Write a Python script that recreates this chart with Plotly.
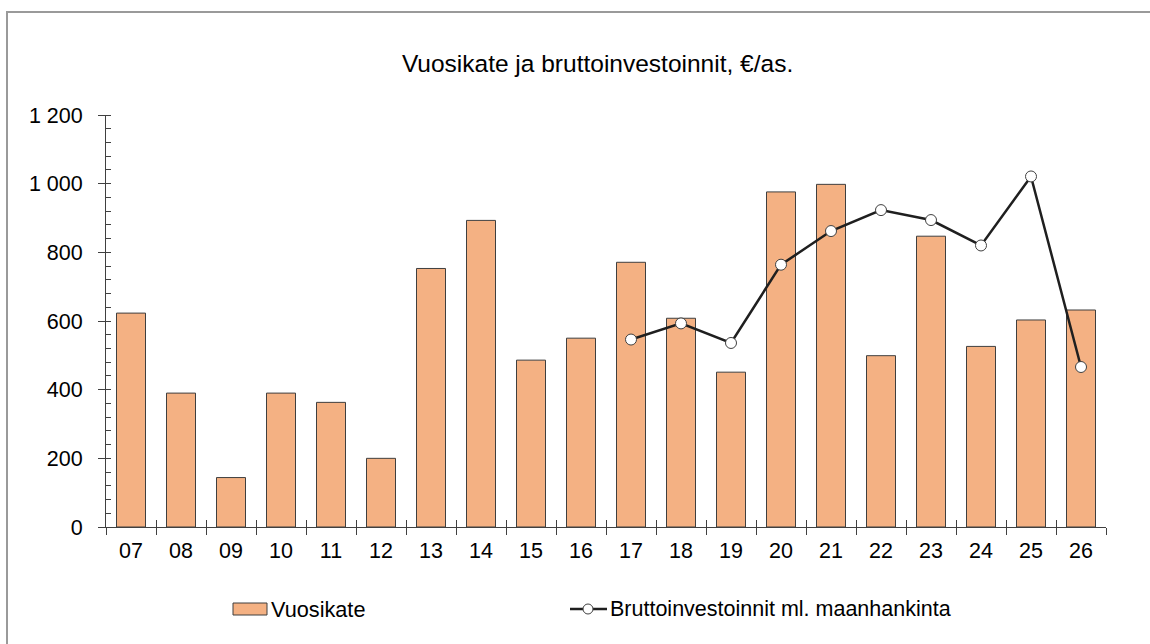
import plotly.graph_objects as go

years = ["07", "08", "09", "10", "11", "12", "13", "14", "15", "16",
         "17", "18", "19", "20", "21", "22", "23", "24", "25", "26"]
vuosikate = [623, 390, 144, 390, 363, 200, 753, 893, 486, 550,
             771, 608, 451, 976, 998, 499, 847, 526, 603, 632]
brutto = [None, None, None, None, None, None, None, None, None, None,
          546, 593, 536, 764, 862, 923, 894, 820, 1021, 466]
y_ticks = [0, 200, 400, 600, 800, 1000, 1200]
y_tick_labels = ["0", "200", "400", "600", "800", "1 000", "1 200"]
legend_names = ["Vuosikate", "Bruttoinvestoinnit ml. maanhankinta"]

font_family = "Liberation Sans, Arial, sans-serif"
bar_color = "#F4B183"
bar_edge = "#3F3F3F"
line_color = "#1F1F1F"
axis_color = "#404040"

fig = go.Figure()
fig.add_trace(go.Bar(
    x=years, y=vuosikate, name=legend_names[0],
    marker=dict(color=bar_color, line=dict(color=bar_edge, width=1)),
))
fig.add_trace(go.Scatter(
    x=years, y=brutto, name=legend_names[1],
    mode="lines+markers", connectgaps=False,
    line=dict(color=line_color, width=2.5),
    marker=dict(symbol="circle", size=11, color="white",
                line=dict(color="#404040", width=1)),
))
# helper trace on overlay axis to draw the upper half of the crossing x ticks
fig.add_trace(go.Scatter(x=[-0.5, 19.5], y=[0, 0], xaxis="x2", yaxis="y",
                         mode="lines", line=dict(width=0), hoverinfo="skip",
                         showlegend=False))

fig.update_layout(
    width=1150, height=644,
    margin=dict(l=106, r=44, t=115, b=117),
    paper_bgcolor="white", plot_bgcolor="white",
    font=dict(family=font_family, color="#000000", size=21),
    title=dict(text="Vuosikate ja bruttoinvestoinnit, €/as.",
               x=0.5196, xanchor="center", y=(644 - 63) / 644, yanchor="middle",
               font=dict(size=24.5, family=font_family)),
    bargap=0.42,
    showlegend=False,
    xaxis=dict(type="category", range=[-0.5, 19.5],
               showline=True, linecolor=axis_color, linewidth=1,
               ticks="outside", tickson="boundaries", ticklen=7,
               tickcolor=axis_color, tickwidth=1,
               showgrid=False, tickfont=dict(size=21.5), ticklabelstandoff=4),
    xaxis2=dict(overlaying="x", range=[-0.5, 19.5], side="bottom",
                tickvals=[i - 0.5 for i in range(len(years) + 1)],
                ticks="inside", ticklen=7, tickcolor=axis_color, tickwidth=1,
                showticklabels=False, showline=False, showgrid=False,
                zeroline=False, fixedrange=True),
    yaxis=dict(range=[0, 1200], tickvals=y_ticks, ticktext=y_tick_labels,
               showline=True, linecolor=axis_color, linewidth=1,
               ticks="outside", ticklen=7, tickcolor=axis_color, tickwidth=1,
               showgrid=False, zeroline=False, tickfont=dict(size=21.5),
               ticklabelstandoff=11,
               minor=dict(dtick=40, ticks="inside", ticklen=5,
                          tickcolor=axis_color, tickwidth=1, showgrid=False)),
)

# outer chart border (left and top visible)
fig.add_shape(type="rect", xref="paper", yref="paper",
              x0=-0.099, x1=1.2, y0=-0.5, y1=(527 - 12) / 412,
              line=dict(color="#9A9A9A", width=2), fillcolor="rgba(0,0,0,0)",
              layer="below")

# custom legend (paper coordinates)
def px(xpix):
    return (xpix - 106) / 1000

def py(ypix):
    return (527 - ypix) / 412

fig.add_shape(type="rect", xref="paper", yref="paper",
              x0=px(233), x1=px(267), y0=py(615), y1=py(603),
              line=dict(color=bar_edge, width=1), fillcolor=bar_color)
fig.add_annotation(text=legend_names[0], xref="paper", yref="paper",
                   x=px(269), y=py(609), xanchor="left", yanchor="middle",
                   showarrow=False, font=dict(size=21.7, family=font_family))
fig.add_shape(type="line", xref="paper", yref="paper",
              x0=px(570), x1=px(607), y0=py(609), y1=py(609),
              line=dict(color=line_color, width=2.5))
fig.add_shape(type="circle", xref="paper", yref="paper",
              x0=px(583), x1=px(593), y0=py(614), y1=py(604),
              line=dict(color="#404040", width=1), fillcolor="white")
fig.add_annotation(text=legend_names[1], xref="paper", yref="paper",
                   x=px(608), y=py(609), xanchor="left", yanchor="middle",
                   showarrow=False, font=dict(size=21.5, family=font_family))

fig.write_html("out.html", config={"displayModeBar": False},
               post_script="document.body.style.margin='0';")
